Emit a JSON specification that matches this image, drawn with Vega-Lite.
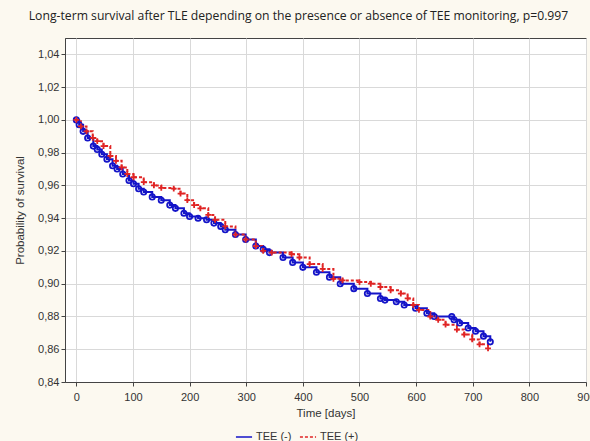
{
  "$schema": "https://vega.github.io/schema/vega-lite/v6.json",
  "width": 521,
  "height": 344,
  "autosize": {"type": "none"},
  "padding": {"left": 65, "top": 38, "right": 4, "bottom": 59},
  "background": "#fcf9f0",
  "title": {
    "text": "Long-term survival after TLE depending on the presence or absence of TEE monitoring, p=0.997",
    "font": "Open Sans",
    "fontSize": 12.2,
    "fontWeight": "normal",
    "color": "#222222",
    "dx": -27,
    "offset": 16
  },
  "config": {
    "view": {"fill": "white", "stroke": "#444444", "strokeWidth": 1},
    "axis": {
      "labelFont": "Liberation Sans",
      "titleFont": "Liberation Sans",
      "labelFontSize": 11,
      "titleFontSize": 11.5,
      "labelColor": "#333333",
      "titleColor": "#333333",
      "titleFontWeight": "normal",
      "gridColor": "#d9d9d9",
      "domainColor": "#444444",
      "tickColor": "#444444",
      "tickSize": 4
    }
  },
  "data": {
    "values": [
      {"group": "TEE (-)", "day": 0, "p": 1.000},
      {"group": "TEE (-)", "day": 5, "p": 0.997},
      {"group": "TEE (-)", "day": 12, "p": 0.993},
      {"group": "TEE (-)", "day": 20, "p": 0.989},
      {"group": "TEE (-)", "day": 30, "p": 0.984},
      {"group": "TEE (-)", "day": 37, "p": 0.982},
      {"group": "TEE (-)", "day": 45, "p": 0.979},
      {"group": "TEE (-)", "day": 54, "p": 0.976},
      {"group": "TEE (-)", "day": 64, "p": 0.972},
      {"group": "TEE (-)", "day": 72, "p": 0.970},
      {"group": "TEE (-)", "day": 82, "p": 0.967},
      {"group": "TEE (-)", "day": 93, "p": 0.963},
      {"group": "TEE (-)", "day": 101, "p": 0.961},
      {"group": "TEE (-)", "day": 110, "p": 0.958},
      {"group": "TEE (-)", "day": 119, "p": 0.956},
      {"group": "TEE (-)", "day": 134, "p": 0.953},
      {"group": "TEE (-)", "day": 150, "p": 0.951},
      {"group": "TEE (-)", "day": 165, "p": 0.948},
      {"group": "TEE (-)", "day": 175, "p": 0.946},
      {"group": "TEE (-)", "day": 190, "p": 0.943},
      {"group": "TEE (-)", "day": 200, "p": 0.941},
      {"group": "TEE (-)", "day": 215, "p": 0.940},
      {"group": "TEE (-)", "day": 230, "p": 0.939},
      {"group": "TEE (-)", "day": 243, "p": 0.937},
      {"group": "TEE (-)", "day": 255, "p": 0.935},
      {"group": "TEE (-)", "day": 263, "p": 0.933},
      {"group": "TEE (-)", "day": 281, "p": 0.930},
      {"group": "TEE (-)", "day": 299, "p": 0.927},
      {"group": "TEE (-)", "day": 317, "p": 0.923},
      {"group": "TEE (-)", "day": 330, "p": 0.921},
      {"group": "TEE (-)", "day": 341, "p": 0.919},
      {"group": "TEE (-)", "day": 365, "p": 0.916},
      {"group": "TEE (-)", "day": 382, "p": 0.913},
      {"group": "TEE (-)", "day": 400, "p": 0.910},
      {"group": "TEE (-)", "day": 424, "p": 0.907},
      {"group": "TEE (-)", "day": 447, "p": 0.904},
      {"group": "TEE (-)", "day": 466, "p": 0.900},
      {"group": "TEE (-)", "day": 490, "p": 0.897},
      {"group": "TEE (-)", "day": 514, "p": 0.894},
      {"group": "TEE (-)", "day": 537, "p": 0.891},
      {"group": "TEE (-)", "day": 545, "p": 0.890},
      {"group": "TEE (-)", "day": 565, "p": 0.889},
      {"group": "TEE (-)", "day": 579, "p": 0.887},
      {"group": "TEE (-)", "day": 599, "p": 0.885},
      {"group": "TEE (-)", "day": 619, "p": 0.882},
      {"group": "TEE (-)", "day": 632, "p": 0.880},
      {"group": "TEE (-)", "day": 663, "p": 0.880},
      {"group": "TEE (-)", "day": 667, "p": 0.878},
      {"group": "TEE (-)", "day": 677, "p": 0.876},
      {"group": "TEE (-)", "day": 692, "p": 0.873},
      {"group": "TEE (-)", "day": 705, "p": 0.871},
      {"group": "TEE (-)", "day": 719, "p": 0.868},
      {"group": "TEE (-)", "day": 731, "p": 0.8645},
      {"group": "TEE (+)", "day": 0, "p": 1.000},
      {"group": "TEE (+)", "day": 8, "p": 0.996},
      {"group": "TEE (+)", "day": 18, "p": 0.993},
      {"group": "TEE (+)", "day": 29, "p": 0.989},
      {"group": "TEE (+)", "day": 37, "p": 0.987},
      {"group": "TEE (+)", "day": 48, "p": 0.984},
      {"group": "TEE (+)", "day": 60, "p": 0.978},
      {"group": "TEE (+)", "day": 70, "p": 0.975},
      {"group": "TEE (+)", "day": 80, "p": 0.971},
      {"group": "TEE (+)", "day": 90, "p": 0.967},
      {"group": "TEE (+)", "day": 101, "p": 0.965},
      {"group": "TEE (+)", "day": 119, "p": 0.962},
      {"group": "TEE (+)", "day": 137, "p": 0.960},
      {"group": "TEE (+)", "day": 150, "p": 0.9585},
      {"group": "TEE (+)", "day": 172, "p": 0.958},
      {"group": "TEE (+)", "day": 184, "p": 0.955},
      {"group": "TEE (+)", "day": 196, "p": 0.951},
      {"group": "TEE (+)", "day": 208, "p": 0.948},
      {"group": "TEE (+)", "day": 219, "p": 0.946},
      {"group": "TEE (+)", "day": 233, "p": 0.942},
      {"group": "TEE (+)", "day": 245, "p": 0.939},
      {"group": "TEE (+)", "day": 263, "p": 0.935},
      {"group": "TEE (+)", "day": 281, "p": 0.930},
      {"group": "TEE (+)", "day": 299, "p": 0.927},
      {"group": "TEE (+)", "day": 317, "p": 0.923},
      {"group": "TEE (+)", "day": 330, "p": 0.920},
      {"group": "TEE (+)", "day": 345, "p": 0.919},
      {"group": "TEE (+)", "day": 380, "p": 0.918},
      {"group": "TEE (+)", "day": 394, "p": 0.916},
      {"group": "TEE (+)", "day": 412, "p": 0.912},
      {"group": "TEE (+)", "day": 435, "p": 0.909},
      {"group": "TEE (+)", "day": 454, "p": 0.903},
      {"group": "TEE (+)", "day": 470, "p": 0.902},
      {"group": "TEE (+)", "day": 500, "p": 0.901},
      {"group": "TEE (+)", "day": 520, "p": 0.900},
      {"group": "TEE (+)", "day": 537, "p": 0.898},
      {"group": "TEE (+)", "day": 555, "p": 0.896},
      {"group": "TEE (+)", "day": 573, "p": 0.894},
      {"group": "TEE (+)", "day": 585, "p": 0.891},
      {"group": "TEE (+)", "day": 595, "p": 0.887},
      {"group": "TEE (+)", "day": 605, "p": 0.884},
      {"group": "TEE (+)", "day": 625, "p": 0.880},
      {"group": "TEE (+)", "day": 639, "p": 0.878},
      {"group": "TEE (+)", "day": 652, "p": 0.875},
      {"group": "TEE (+)", "day": 672, "p": 0.872},
      {"group": "TEE (+)", "day": 685, "p": 0.869},
      {"group": "TEE (+)", "day": 699, "p": 0.866},
      {"group": "TEE (+)", "day": 712, "p": 0.863},
      {"group": "TEE (+)", "day": 727, "p": 0.8605}
    ]
  },
  "encoding": {
    "x": {
      "field": "day",
      "type": "quantitative",
      "scale": {"domain": [-20, 900], "nice": false, "zero": false},
      "axis": {
        "values": [0, 100, 200, 300, 400, 500, 600, 700, 800, 900],
        "title": "Time [days]",
        "labelPadding": 5,
        "titlePadding": 5,
        "labelFlush": false,
        "labelOverlap": false
      }
    },
    "y": {
      "field": "p",
      "type": "quantitative",
      "scale": {"domain": [0.84, 1.05], "nice": false, "zero": false},
      "axis": {
        "values": [0.84, 0.86, 0.88, 0.90, 0.92, 0.94, 0.96, 0.98, 1.00, 1.02, 1.04],
        "labelExpr": "replace(format(datum.value, '.2f'), '.', ',')",
        "title": "Probability of survival",
        "titlePadding": 12,
        "labelFlush": false
      }
    },
    "color": {
      "field": "group",
      "type": "nominal",
      "scale": {"domain": ["TEE (-)", "TEE (+)"], "range": ["#1414c8", "#e02424"]},
      "legend": {
        "title": null,
        "orient": "none",
        "legendX": 170,
        "legendY": 390,
        "direction": "horizontal",
        "symbolType": "stroke",
        "symbolSize": 260,
        "symbolStrokeWidth": 1.5,
        "labelFont": "Liberation Sans",
        "labelFontSize": 11,
        "labelColor": "#333333",
        "columnPadding": 4,
        "labelOffset": 3
      }
    }
  },
  "layer": [
    {
      "mark": {"type": "line", "interpolate": "step-after", "strokeWidth": 2},
      "encoding": {
        "strokeDash": {
          "field": "group",
          "type": "nominal",
          "scale": {"domain": ["TEE (-)", "TEE (+)"], "range": [[1, 0], [3, 2]]},
          "legend": {
            "title": null,
            "orient": "none",
            "legendX": 170,
            "legendY": 390,
            "direction": "horizontal",
            "symbolType": "stroke",
            "symbolSize": 260,
            "symbolStrokeWidth": 1.5,
            "labelFont": "Liberation Sans",
            "labelFontSize": 11,
            "labelColor": "#333333",
            "columnPadding": 4,
            "labelOffset": 3
          }
        }
      }
    },
    {
      "transform": [{"filter": "datum.group == 'TEE (-)'"}],
      "mark": {"type": "point", "shape": "circle", "filled": false, "size": 28, "strokeWidth": 1.8, "opacity": 1}
    },
    {
      "transform": [{"filter": "datum.group == 'TEE (+)'"}],
      "mark": {"type": "point", "shape": "M-1,0H1M0,-1V1", "filled": false, "size": 34, "strokeWidth": 1.8, "opacity": 1}
    }
  ]
}
